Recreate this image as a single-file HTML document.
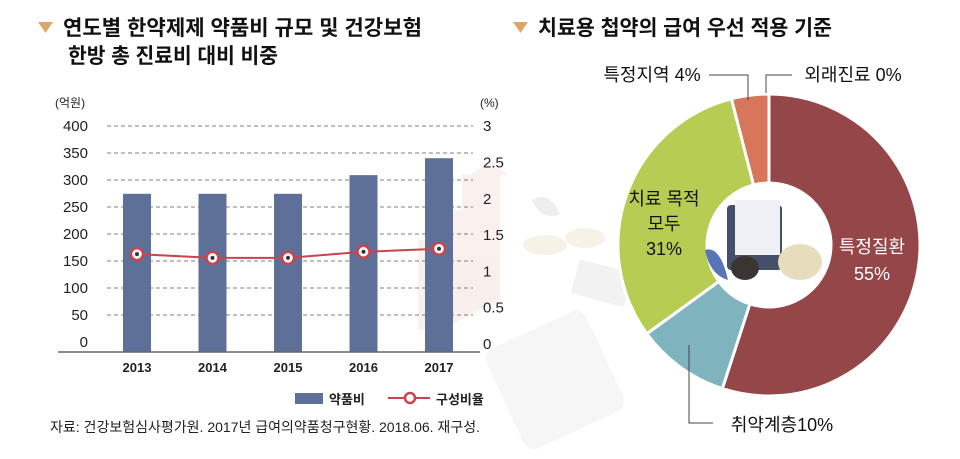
<!DOCTYPE html>
<html><head><meta charset="utf-8"><style>
html,body{margin:0;padding:0;background:#fff;}
svg{display:block;font-family:"Liberation Sans","Noto Sans CJK KR",sans-serif;}
</style></head><body>
<svg id="c" width="960" height="459" viewBox="0 0 960 459">
<g opacity="0.35">
  <polygon points="418,330 418,240 440,240 440,210 462,210 462,175 470,175 490,160 508,175 500,175 500,300 440,330" fill="#f0d6cf"/>
  <rect x="500" y="325" width="110" height="110" rx="12" fill="#e8e8e8" transform="rotate(-25 555 380)"/>
  <ellipse cx="545" cy="245" rx="22" ry="10" fill="#e6dcc0"/>
  <ellipse cx="585" cy="238" rx="20" ry="10" fill="#e6dcc0"/>
  <path d="M532,200 Q550,190 560,215 Q540,220 532,200Z" fill="#cfcfcf"/>
  <rect x="575" y="265" width="55" height="35" fill="#dcdcdc" transform="rotate(15 600 280)"/>
</g>
<g>
  <polygon points="38,22 53,22 45.5,33" fill="#d9a86a"/>
  <text x="63" y="35" font-size="21" font-weight="bold" fill="#111" textLength="359" lengthAdjust="spacingAndGlyphs">연도별 한약제제 약품비 규모 및 건강보험</text>
  <text x="68" y="63" font-size="21" font-weight="bold" fill="#111" textLength="210" lengthAdjust="spacingAndGlyphs">한방 총 진료비 대비 비중</text>
</g>
<g>
  <polygon points="513,22 528,22 520.5,33" fill="#d9a86a"/>
  <text x="538" y="35" font-size="21" font-weight="bold" fill="#111" textLength="294" lengthAdjust="spacingAndGlyphs">치료용 첩약의 급여 우선 적용 기준</text>
</g>
<g id="bar"></g>
<g id="pie"></g>
<text x="50" y="432" font-size="14" fill="#222" textLength="430" lengthAdjust="spacingAndGlyphs">자료: 건강보험심사평가원. 2017년 급여의약품청구현황. 2018.06. 재구성.</text>
</svg>
<script>
const years = ["2013","2014","2015","2016","2017"];
const drugCost = [280, 280, 280, 313, 343];
const ratio = [1.30, 1.25, 1.25, 1.33, 1.37];
const leftTicks = [0,50,100,150,200,250,300,350,400];
const rightTicks = [0,0.5,1,1.5,2,2.5,3];
const pieLabels = ["특정질환","취약계층","치료 목적","특정지역","외래진료"];
const pieValues = [55, 10, 31, 4, 0];

const NS="http://www.w3.org/2000/svg";
function mk(tag, attrs, parent, txt){const e=document.createElementNS(NS,tag);for(const k in attrs)e.setAttribute(k,attrs[k]);if(txt!=null)e.textContent=txt;parent.appendChild(e);return e;}
const bar=document.getElementById('bar');
const y0=352, yTop=126;
const yL=v=>y0-(v/400)*(y0-yTop);
const yR=v=>y0-(v/3)*(y0-yTop);
const xC=i=>137+i*75.5;
leftTicks.forEach(t=>{
  const gy=yTop+(400-t)/50*27;
  if(t>0){const g=mk('line',{x1:107,x2:473,y1:gy,y2:gy,stroke:'#555','stroke-width':0.8,'stroke-dasharray':'4,3'},bar);
  
  }
  const l=mk('text',{x:88,y:gy+5,'font-size':15,'text-anchor':'end',fill:'#222'},bar,String(t));
  
  
});
rightTicks.forEach((t,i)=>{
  const ry=344-i*36.3;
  const l=mk('text',{x:483,y:ry+5,'font-size':15,fill:'#222'},bar,String(t));
  
  
});
let u=mk('text',{x:55,y:107,'font-size':12,fill:'#222'},bar,'(억원)');


u=mk('text',{x:480,y:107,'font-size':12,fill:'#222'},bar,'(%)');


drugCost.forEach((v,i)=>{
  const r=mk('rect',{x:xC(i)-14,y:yL(v),width:28,height:y0-yL(v),fill:'#5e7098'},bar);
  
  
  const t=mk('text',{x:xC(i),y:372,'font-size':13,'font-weight':'bold','text-anchor':'middle',fill:'#222'},bar,years[i]);
  
  
});
const base=mk('line',{x1:58,x2:480,y1:y0,y2:y0,stroke:'#666','stroke-width':1.5},bar);


const pl=mk('polyline',{points:ratio.map((v,i)=>xC(i)+','+yR(v)).join(' '),fill:'none',stroke:'#c8444e','stroke-width':2},bar);


ratio.forEach((v,i)=>{
  const c=mk('circle',{cx:xC(i),cy:yR(v),r:6,fill:'#fff',stroke:'#c8444e','stroke-width':2.5},bar);
  
  
  const d=mk('circle',{cx:xC(i),cy:yR(v),r:2,fill:'#333'},bar);
  
  
});
let e=mk('rect',{x:295,y:393,width:28,height:11,fill:'#5e7098'},bar);


e=mk('text',{x:329,y:404,'font-size':13,'font-weight':'bold',fill:'#222'},bar,'약품비');


e=mk('line',{x1:388,x2:430,y1:398,y2:398,stroke:'#c8444e','stroke-width':2},bar);


e=mk('circle',{cx:410,cy:398,r:5,fill:'#fff',stroke:'#c8444e','stroke-width':2.5},bar);


e=mk('text',{x:436,y:404,'font-size':13,'font-weight':'bold',fill:'#222'},bar,'구성비율');



const pie=document.getElementById('pie');
const cx=769, cy=245, R=151, r0=62;
const colors=['#944648','#7fb4be','#b7cc52','#d7765a','#d7765a'];
const total=pieValues.reduce((a,b)=>a+b,0);
let acc=0;
function pt(a,rad){return [cx+rad*Math.sin(a), cy-rad*Math.cos(a)];}
pieValues.forEach((v,i)=>{
  const a0=acc/total*2*Math.PI, a1=(acc+v)/total*2*Math.PI; acc+=v;
  if(v<=0)return;
  const large=(a1-a0)>Math.PI?1:0;
  const p1=pt(a0,R),p2=pt(a1,R),p3=pt(a1,r0),p4=pt(a0,r0);
  const p=mk('path',{d:`M${p1}L${p1}A${R},${R} 0 ${large} 1 ${p2}L${p3}A${r0},${r0} 0 ${large} 0 ${p4}Z`,fill:colors[i],stroke:'#fff','stroke-width':3},pie);
  
  
});
e=mk('circle',{cx:cx,cy:cy,r:r0,fill:'#fff'},pie);


e=mk('rect',{x:727,y:205,width:55,height:65,rx:4,fill:'#44506a'},pie);


e=mk('rect',{x:735,y:200,width:45,height:55,fill:'#eef0f5'},pie);


e=mk('ellipse',{cx:800,cy:262,rx:22,ry:18,fill:'#e7dcbc'},pie);


e=mk('ellipse',{cx:745,cy:268,rx:14,ry:12,fill:'#3a3530'},pie);


e=mk('path',{d:'M705,250 Q720,245 728,280 Q710,275 705,250Z',fill:'#5a74b8'},pie);


function lbl(x,y,txt,opt,name){const t=mk('text',Object.assign({x:x,y:y,'font-size':18,fill:'#111','text-anchor':'middle'},opt),pie,txt);return t;}
lbl(872,253,pieLabels[0],{fill:'#fff'},'label-specific-disease');
lbl(872,280,pieValues[0]+'%',{fill:'#fff'},'value-specific-disease');
lbl(664,205,pieLabels[2],{},'label-all-treatment');
lbl(664,230,'모두',{},'label-all-treatment-2');
lbl(664,255,pieValues[2]+'%',{},'value-all-treatment');
lbl(652,81,pieLabels[3]+' '+pieValues[3]+'%',{},'label-specific-region');
lbl(853,81,pieLabels[4]+' '+pieValues[4]+'%',{},'label-outpatient');
lbl(782,431,'취약계층'+pieValues[1]+'%',{},'label-vulnerable');
const leaders=[[[709,75],[748,75],[748,100]],[[792,75],[766,75],[766,93]],[[689,345],[689,423],[713,423]]];
leaders.forEach((L,i)=>{const p=mk('polyline',{points:L.join(' '),fill:'none',stroke:'#444','stroke-width':1},pie);

});
</script>
</body></html>
